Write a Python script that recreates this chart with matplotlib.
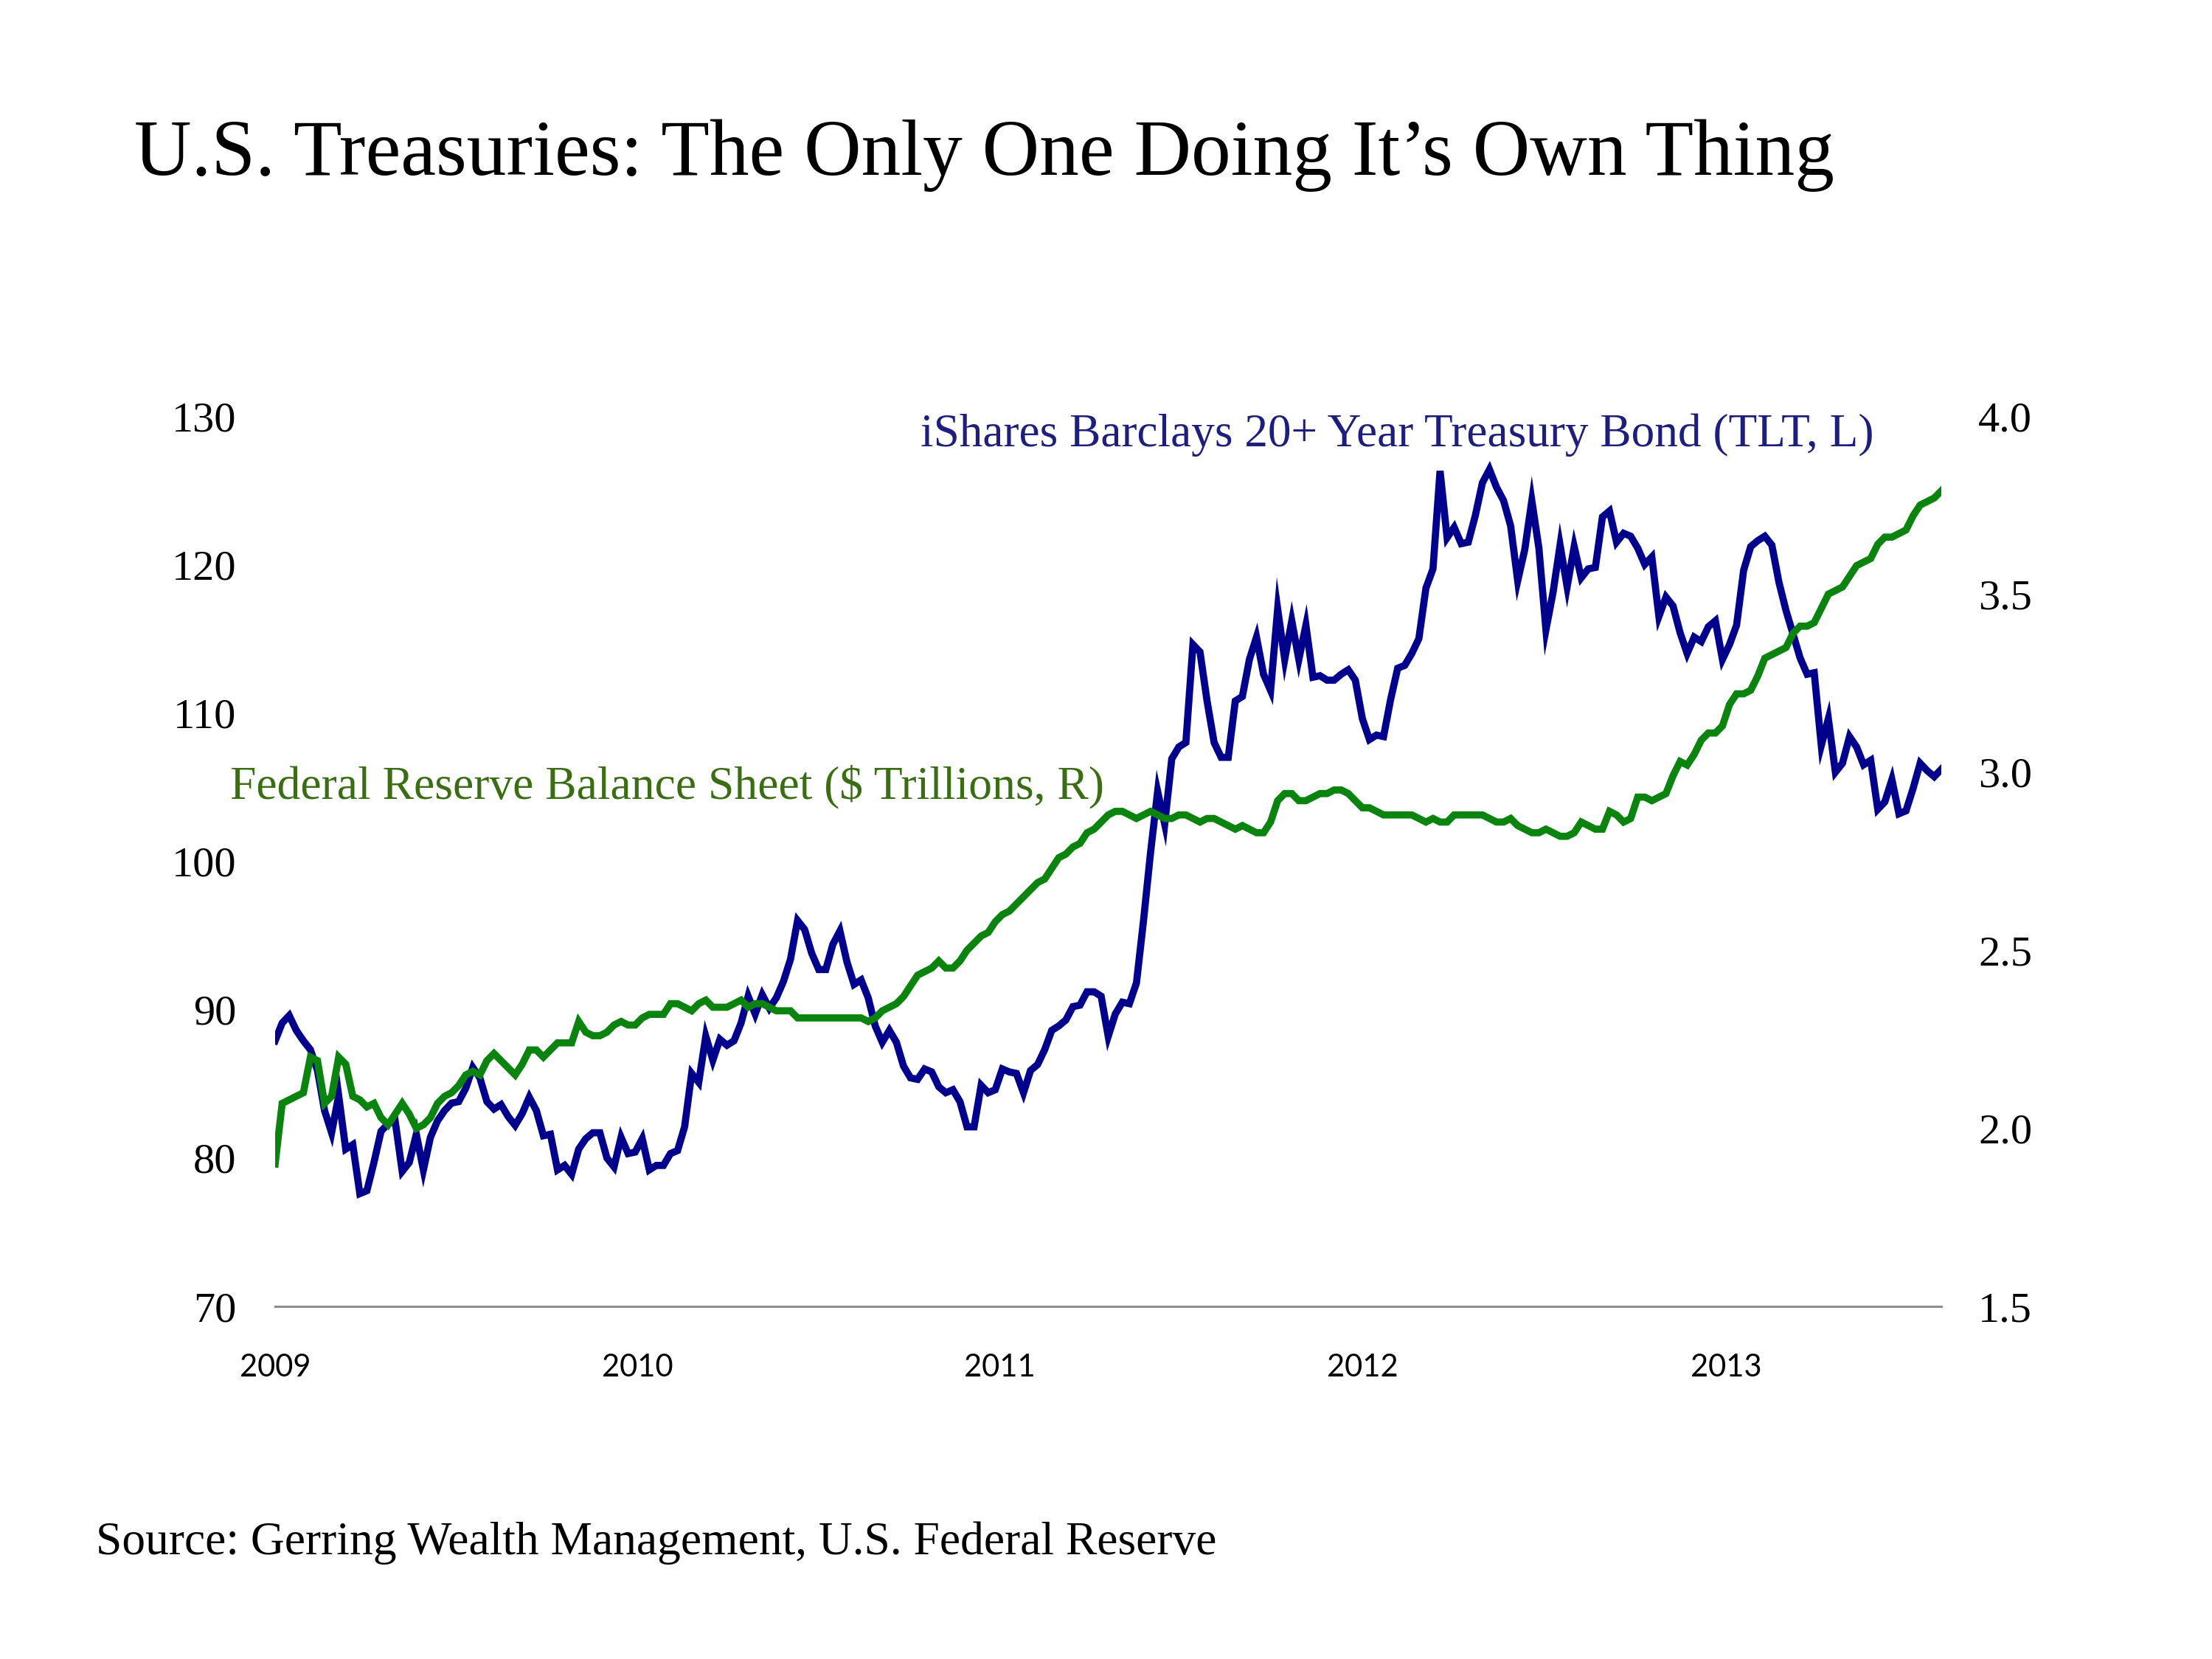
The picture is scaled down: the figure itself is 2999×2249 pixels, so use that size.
import numpy as np
import pandas as pd
import matplotlib
matplotlib.use("Agg")
import matplotlib.pyplot as plt

# ---------------- data (weekly, Jan 2009 - Aug 2013) ----------------
start_date = "2009-01-01"
end_date = "2013-08-06"

tlt_values = [
    87.9, 89.1, 89.6, 88.6, 87.9, 87.3, 85.9, 83.2, 81.7, 84.2,
    80.6, 80.9, 77.6, 77.8, 79.7, 81.8, 82.3, 82.5, 79.1, 79.7,
    81.6, 79.2, 81.4, 82.5, 83.2, 83.7, 83.8, 84.7, 86.1, 85.4,
    83.8, 83.3, 83.6, 82.8, 82.2, 83.0, 84.1, 83.2, 81.5, 81.6,
    79.2, 79.5, 78.9, 80.6, 81.3, 81.7, 81.7, 80.0, 79.4, 81.4,
    80.3, 80.4, 81.3, 79.2, 79.5, 79.5, 80.3, 80.5, 82.1, 85.7,
    85.1, 88.2, 86.6, 88.0, 87.6, 87.9, 89.1, 90.9, 89.7, 91.0,
    90.1, 90.8, 91.9, 93.4, 96.0, 95.4, 93.8, 92.7, 92.7, 94.4,
    95.3, 93.2, 91.7, 92.0, 90.8, 88.9, 87.8, 88.6, 87.8, 86.2,
    85.4, 85.3, 86.0, 85.8, 84.8, 84.4, 84.6, 83.8, 82.1, 82.1,
    84.9, 84.4, 84.6, 86.0, 85.8, 85.7, 84.4, 85.9, 86.3, 87.3,
    88.6, 88.9, 89.3, 90.2, 90.3, 91.2, 91.2, 90.9, 88.2, 89.7,
    90.5, 90.4, 91.8, 96.0, 100.6, 104.7, 102.5, 106.9, 107.7, 108.0,
    114.6, 114.1, 110.8, 108.0, 107.0, 107.0, 110.8, 111.1, 113.6, 115.1,
    112.6, 111.5, 117.0, 113.6, 116.2, 113.6, 115.9, 112.4, 112.5, 112.2,
    112.2, 112.6, 112.9, 112.2, 109.6, 108.2, 108.5, 108.4, 110.9, 113.0,
    113.2, 114.0, 115.0, 118.4, 119.7, 126.3, 121.8, 122.5, 121.4, 121.5,
    123.3, 125.5, 126.4, 125.2, 124.3, 122.6, 118.9, 121.0, 124.3, 121.1,
    115.6, 118.1, 121.3, 118.5, 121.2, 119.1, 119.7, 119.8, 123.2, 123.6,
    121.5, 122.1, 121.9, 121.1, 120.0, 120.5, 116.5, 117.8, 117.2, 115.4,
    114.0, 115.1, 114.8, 115.8, 116.2, 113.6, 114.6, 115.9, 119.6, 121.2,
    121.6, 121.9, 121.3, 118.8, 116.9, 115.3, 113.7, 112.6, 112.7, 107.8,
    109.6, 106.0, 106.6, 108.4, 107.7, 106.5, 106.8, 103.5, 104.0, 105.5,
    103.2, 103.4, 104.9, 106.6, 106.1, 105.7, 106.2,
]

fed_values = [
    1.90, 2.07, 2.08, 2.09, 2.10, 2.20, 2.19, 2.07, 2.09, 2.20,
    2.18, 2.09, 2.08, 2.06, 2.07, 2.03, 2.01, 2.04, 2.07, 2.04,
    2.00, 2.01, 2.03, 2.07, 2.09, 2.10, 2.12, 2.15, 2.16, 2.15,
    2.19, 2.21, 2.19, 2.17, 2.15, 2.18, 2.22, 2.22, 2.20, 2.22,
    2.24, 2.24, 2.24, 2.30, 2.27, 2.26, 2.26, 2.27, 2.29, 2.30,
    2.29, 2.29, 2.31, 2.32, 2.32, 2.32, 2.35, 2.35, 2.34, 2.33,
    2.35, 2.36, 2.34, 2.34, 2.34, 2.35, 2.36, 2.34, 2.35, 2.35,
    2.34, 2.33, 2.33, 2.33, 2.31, 2.31, 2.31, 2.31, 2.31, 2.31,
    2.31, 2.31, 2.31, 2.31, 2.30, 2.31, 2.33, 2.34, 2.35, 2.37,
    2.40, 2.43, 2.44, 2.45, 2.47, 2.45, 2.45, 2.47, 2.50, 2.52,
    2.54, 2.55, 2.58, 2.60, 2.61, 2.63, 2.65, 2.67, 2.69, 2.70,
    2.73, 2.76, 2.77, 2.79, 2.80, 2.83, 2.84, 2.86, 2.88, 2.89,
    2.89, 2.88, 2.87, 2.88, 2.89, 2.88, 2.87, 2.87, 2.88, 2.88,
    2.87, 2.86, 2.87, 2.87, 2.86, 2.85, 2.84, 2.85, 2.84, 2.83,
    2.83, 2.86, 2.92, 2.94, 2.94, 2.92, 2.92, 2.93, 2.94, 2.94,
    2.95, 2.95, 2.94, 2.92, 2.90, 2.90, 2.89, 2.88, 2.88, 2.88,
    2.88, 2.88, 2.87, 2.86, 2.87, 2.86, 2.86, 2.88, 2.88, 2.88,
    2.88, 2.88, 2.87, 2.86, 2.86, 2.87, 2.85, 2.84, 2.83, 2.83,
    2.84, 2.83, 2.82, 2.82, 2.83, 2.86, 2.85, 2.84, 2.84, 2.89,
    2.88, 2.86, 2.87, 2.93, 2.93, 2.92, 2.93, 2.94, 2.99, 3.03,
    3.02, 3.05, 3.09, 3.11, 3.11, 3.13, 3.19, 3.22, 3.22, 3.23,
    3.27, 3.32, 3.33, 3.34, 3.35, 3.39, 3.41, 3.41, 3.42, 3.46,
    3.50, 3.51, 3.52, 3.55, 3.58, 3.59, 3.60, 3.64, 3.66, 3.66,
    3.67, 3.68, 3.72, 3.75, 3.76, 3.77, 3.79,
]

year_labels = ["2009", "2010", "2011", "2012", "2013"]
left_ticks = [70, 80, 90, 100, 110, 120, 130]
right_ticks = [1.5, 2.0, 2.5, 3.0, 3.5, 4.0]
right_tick_labels = ["1.5", "2.0", "2.5", "3.0", "3.5", "4.0"]

title_text = "U.S. Treasuries: The Only One Doing It\u2019s Own Thing"
tlt_label = "iShares Barclays 20+ Year Treasury Bond (TLT, L)"
fed_label = "Federal Reserve Balance Sheet ($ Trillions, R)"
source_text = "Source: Gerring Wealth Management, U.S. Federal Reserve"

# ---------------- styling ----------------
SERIF = "Liberation Serif"
SANS = "Lato"
BLUE = "#00008c"
GREEN = "#0a840f"
BLUE_TXT = "#1e1e7c"
GREEN_TXT = "#3b6e14"

W, H, DPI = 2999, 2249, 200
fig = plt.figure(figsize=(W / DPI, H / DPI), dpi=DPI)
fig.patch.set_facecolor("white")

ax = fig.add_axes([373 / W, 1 - 1771 / H, (2632 - 373) / W, (1771 - 564) / H])
ax2 = ax.twinx()

tlt_dates = pd.date_range(start_date, end_date, periods=len(tlt_values))
fed_dates = pd.date_range(start_date, end_date, periods=len(fed_values))

ax.plot(tlt_dates, tlt_values, color=BLUE, lw=3.5, solid_joinstyle="miter")
ax2.plot(fed_dates, fed_values, color=GREEN, lw=3.5, solid_joinstyle="miter")

ax.set_xlim(pd.Timestamp(start_date), pd.Timestamp(end_date))
ax.set_ylim(70, 130)
ax2.set_ylim(1.5, 4.0)

ax.set_xticks([pd.Timestamp(f"{y}-01-01") for y in year_labels])
ax.set_xticklabels(year_labels, fontfamily=SANS, fontsize=15)
ax.set_yticks(left_ticks)
ax.set_yticklabels([str(v) for v in left_ticks], fontfamily=SERIF, fontsize=21)
ax2.set_yticks(right_ticks)
ax2.set_yticklabels(right_tick_labels, fontfamily=SERIF, fontsize=21)

ax.tick_params(axis="x", length=0, pad=23)
ax.tick_params(axis="y", length=0, pad=19)
ax2.tick_params(axis="y", length=0, pad=18)

for s in ["top", "left", "right"]:
    ax.spines[s].set_visible(False)
for s in ax2.spines.values():
    s.set_visible(False)
ax.spines["bottom"].set_color("#8c8c8c")
ax.spines["bottom"].set_linewidth(1.1)
ax.patch.set_alpha(0)

# ---------------- texts ----------------
t_title = fig.text(182 / W, 1 - 237 / H, title_text, fontfamily=SERIF,
                   fontsize=36, color="black", va="baseline", ha="left")
t_tlt = fig.text(1248 / W, 1 - 605 / H, tlt_label, fontfamily=SERIF,
                 fontsize=24, color=BLUE_TXT, va="baseline", ha="left")
t_fed = fig.text(312 / W, 1 - 1082 / H, fed_label, fontfamily=SERIF,
                 fontsize=24, color=GREEN_TXT, va="baseline", ha="left")
t_src = fig.text(130 / W, 1 - 2107 / H, source_text, fontfamily=SERIF,
                 fontsize=21, color="black", va="baseline", ha="left")

renderer = fig.canvas.get_renderer()
for t, target in [(t_title, 2305), (t_tlt, 1290), (t_fed, 1184), (t_src, 1520)]:
    w = t.get_window_extent(renderer).width
    t.set_fontsize(t.get_fontsize() * target / w)

fig.savefig("out.png", dpi=DPI, facecolor="white")
